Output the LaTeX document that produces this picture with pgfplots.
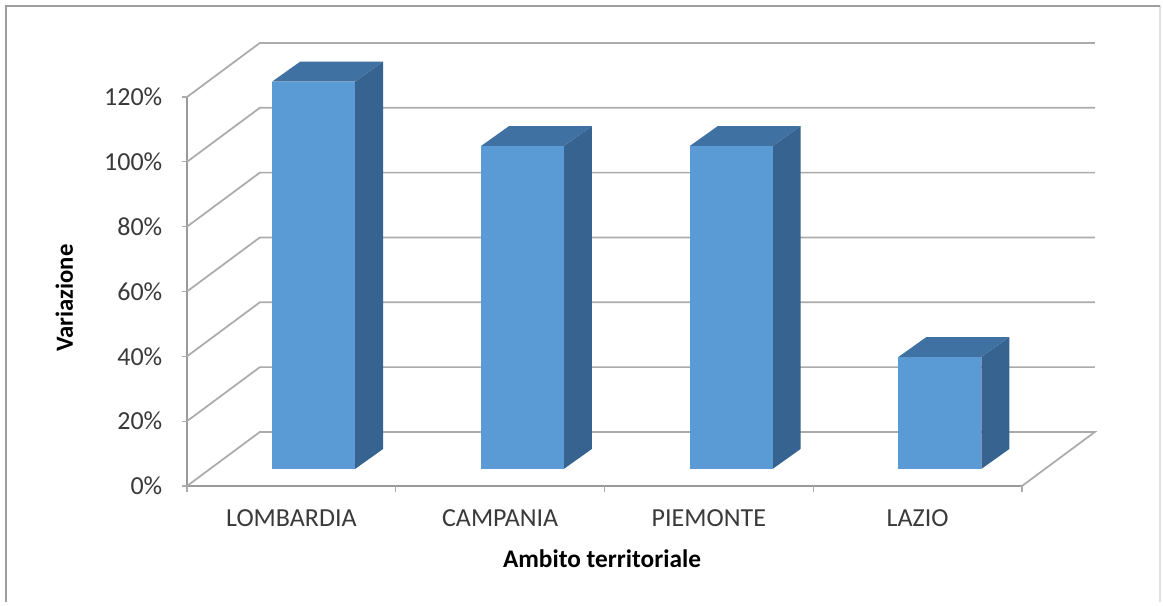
\documentclass[border=0pt]{standalone}
\usepackage{pgfplots}
\pgfplotsset{compat=1.18}
\usepackage{fontspec}
\setmainfont{Carlito}
\definecolor{gridc}{HTML}{ABABAB}
\definecolor{axisc}{HTML}{9A9A9A}
\definecolor{front}{HTML}{5B9BD5}
\definecolor{topc}{HTML}{3F71A3}
\definecolor{sidec}{HTML}{366390}
\definecolor{txt}{HTML}{3A3A3A}
\begin{document}
\begin{tikzpicture}[x=0.75pt,y=0.75pt]
\useasboundingbox (0,0) rectangle (1163,606);
\fill[white] (0,0) rectangle (1163,606);
\draw[color=black!12,line width=1.5] (6,600) -- (1160,600) -- (1160,4);
\draw[color=black!38,line width=1.5] (1160,600) -- (6,600) -- (6,4);
\begin{axis}[
  at={(140.25pt,90pt)}, anchor=south west,
  scale only axis, width=626.25pt, height=291.75pt,
  xmin=0, xmax=4, ymin=0, ymax=120,
  clip=false,
  axis x line*=bottom, axis y line*=left,
  axis line style={color=axisc,line width=1.3pt,-},
  xtick={0.5,1.5,2.5,3.5},
  xticklabels={LOMBARDIA,CAMPANIA,PIEMONTE,LAZIO},
  ytick={0,20,40,60,80,100,120},
  yticklabels={0\%,20\%,40\%,60\%,80\%,100\%,120\%},
  major tick length=0pt,
  xtick style={draw=none},
  ytick style={draw=none},
  tick align=outside,
  tick label style={font=\fontsize{19.5}{21}\selectfont,text=txt},
  yticklabel style={xshift=-15pt},
  xticklabel style={yshift=-14pt},
  xlabel={Ambito territoriale},
  ylabel={Variazione},
  every axis x label/.style={at={(axis description cs:0.497,-0.188)},anchor=center,font=\fontsize{19}{21}\selectfont\bfseries,text=black},
  every axis y label/.style={at={(axis description cs:-0.147,0.483)},anchor=center,rotate=90,font=\fontsize{18.5}{21}\selectfont\bfseries,text=black},
]
% walls: front corner, back corner, right end of each gridline
\addplot[gridc,line width=1.3pt] coordinates {(4,0) (4.349,16.67) (0.349,16.67) (0,0)};
\addplot[gridc,line width=1.3pt] coordinates {(0,20) (0.349,36.67) (4.349,36.67)};
\addplot[gridc,line width=1.3pt] coordinates {(0,40) (0.349,56.67) (4.349,56.67)};
\addplot[gridc,line width=1.3pt] coordinates {(0,60) (0.349,76.67) (4.349,76.67)};
\addplot[gridc,line width=1.3pt] coordinates {(0,80) (0.349,96.67) (4.349,96.67)};
\addplot[gridc,line width=1.3pt] coordinates {(0,100) (0.349,116.67) (4.349,116.67)};
\addplot[gridc,line width=1.3pt] coordinates {(0,120) (0.349,136.67) (4.349,136.67)};
% tick marks
\addplot[gridc,line width=0.8pt] coordinates {(0,0) (-0.024,0)};
\addplot[gridc,line width=0.8pt] coordinates {(0,20) (-0.024,20)};
\addplot[gridc,line width=0.8pt] coordinates {(0,40) (-0.024,40)};
\addplot[gridc,line width=0.8pt] coordinates {(0,60) (-0.024,60)};
\addplot[gridc,line width=0.8pt] coordinates {(0,80) (-0.024,80)};
\addplot[gridc,line width=0.8pt] coordinates {(0,100) (-0.024,100)};
\addplot[gridc,line width=0.8pt] coordinates {(0,120) (-0.024,120)};
\addplot[gridc,line width=0.8pt] coordinates {(0,0) (0,-1.8)};
\addplot[gridc,line width=0.8pt] coordinates {(1,0) (1,-1.8)};
\addplot[gridc,line width=0.8pt] coordinates {(2,0) (2,-1.8)};
\addplot[gridc,line width=0.8pt] coordinates {(3,0) (3,-1.8)};
\addplot[gridc,line width=0.8pt] coordinates {(4,0) (4,-1.8)};
% side faces (base raised 5.25 units above the front floor edge)
\addplot[fill=sidec,draw=none] coordinates {(0.805,5.25) (0.939,11.4) (0.939,130.9) (0.805,124.75)} -- cycle;
\addplot[fill=sidec,draw=none] coordinates {(1.805,5.25) (1.939,11.4) (1.939,111) (1.805,104.85)} -- cycle;
\addplot[fill=sidec,draw=none] coordinates {(2.805,5.25) (2.939,11.4) (2.939,111) (2.805,104.85)} -- cycle;
\addplot[fill=sidec,draw=none] coordinates {(3.805,5.25) (3.939,11.4) (3.939,45.95) (3.805,39.8)} -- cycle;
% top faces
\addplot[fill=topc,draw=none] coordinates {(0.408,124.75) (0.805,124.75) (0.939,130.9) (0.542,130.9)} -- cycle;
\addplot[fill=topc,draw=none] coordinates {(1.408,104.85) (1.805,104.85) (1.939,111) (1.542,111)} -- cycle;
\addplot[fill=topc,draw=none] coordinates {(2.408,104.85) (2.805,104.85) (2.939,111) (2.542,111)} -- cycle;
\addplot[fill=topc,draw=none] coordinates {(3.408,39.8) (3.805,39.8) (3.939,45.95) (3.542,45.95)} -- cycle;
% front faces
\addplot[fill=front,draw=none] coordinates {(0.408,5.25) (0.805,5.25) (0.805,124.75) (0.408,124.75)} -- cycle;
\addplot[fill=front,draw=none] coordinates {(1.408,5.25) (1.805,5.25) (1.805,104.85) (1.408,104.85)} -- cycle;
\addplot[fill=front,draw=none] coordinates {(2.408,5.25) (2.805,5.25) (2.805,104.85) (2.408,104.85)} -- cycle;
\addplot[fill=front,draw=none] coordinates {(3.408,5.25) (3.805,5.25) (3.805,39.8) (3.408,39.8)} -- cycle;
\end{axis}
\end{tikzpicture}
\end{document}
